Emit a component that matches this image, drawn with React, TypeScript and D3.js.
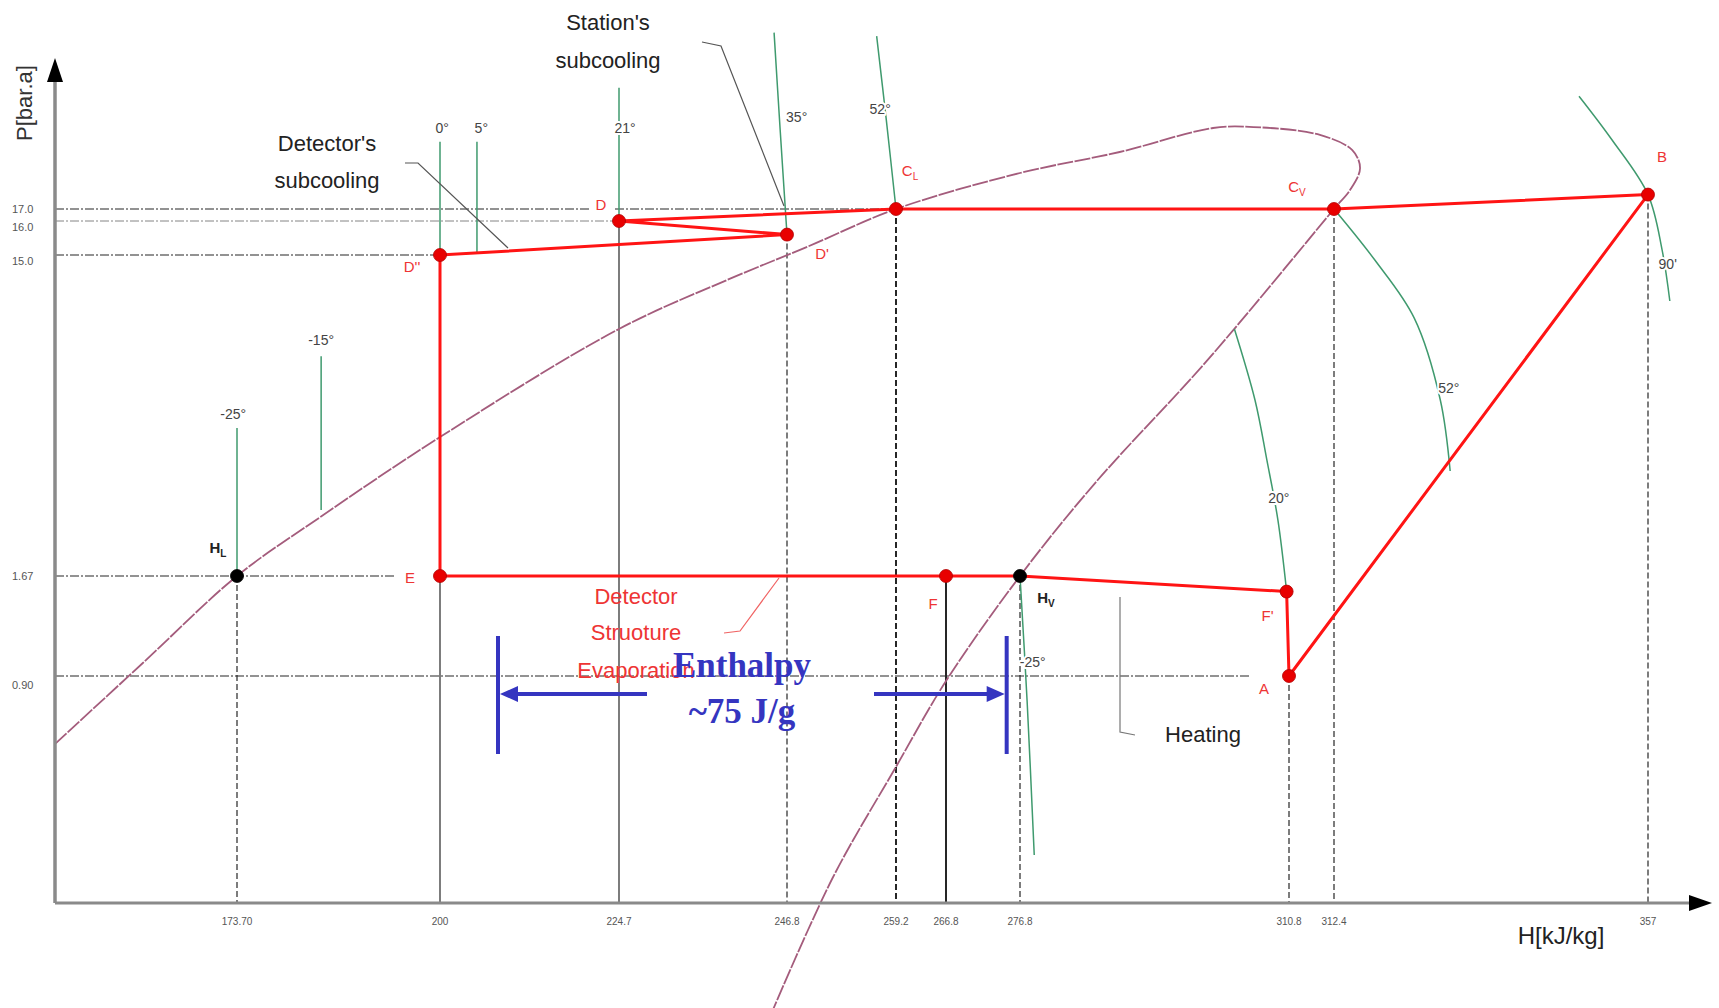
import React from "react";
import * as d3 from "d3";

// ---- axis ticks -------------------------------------------------------
const hTicks = [173.7, 200, 224.7, 246.8, 259.2, 266.8, 276.8, 310.8, 312.4, 357];
const hTickLabels = ["173.70", "200", "224.7", "246.8", "259.2", "266.8", "276.8", "310.8", "312.4", "357"];
const pTicks = [17.0, 16.0, 15.0, 1.67, 0.9];
const pTickLabels = ["17.0", "16.0", "15.0", "1.67", "0.90"];

// ---- cycle state points (H kJ/kg, P bar.a) ----------------------------
const stateNames = ["A", "B", "C_V", "C_L", "D", "D'", "D''", "E", "F", "H_V", "F'", "H_L"];
const stateH = [310.8, 357, 312.4, 259.2, 224.7, 246.8, 200, 200, 266.8, 276.8, 310.5, 173.7];
const stateP = [0.9, 18.2, 17.0, 17.0, 16.0, 15.6, 15.0, 1.67, 1.67, 1.67, 1.55, 1.67];
const cycleOrder = ["A", "B", "C_V", "C_L", "D", "D'", "D''", "E", "F", "H_V", "F'", "A"];
const blackStates = ["H_L", "H_V"];
const dropLines = ["H_L", "E", "D", "D'", "C_L", "F", "H_V", "A", "C_V", "B"];

// ---- saturation dome (liquid branch -> critical region -> vapour branch)
const domeH = [150.1, 161.5, 173.7, 184.5, 200, 224.7, 238.9, 249.1, 259.2, 276.8, 289.4, 301.2, 306.3, 311.9, 315.0, 316.1, 314.7, 312.4, 300.3, 286.4, 276.8, 266.8, 259.2, 252.0, 245.0];
const domeP = [0.63, 1.0, 1.67, 4.12, 7.44, 11.93, 13.96, 15.24, 17.0, 20.0, 21.75, 23.75, 23.83, 23.17, 21.9, 20.4, 18.6, 17.0, 10.56, 5.57, 1.67, 0.88, 0.54, 0.10, -0.42];

// ---- isotherms [H, P] ---------------------------------------------------
const iso0 = [[200, 22.6], [200, 15.0]];
const iso5 = [[205.1, 22.6], [205.1, 15.07]];
const iso21 = [[224.7, 27.1], [224.7, 16.0]];
const isoM15 = [[184.6, 10.8], [184.6, 4.41]];
const isoM25L = [[173.7, 7.82], [173.7, 1.67]];
const iso35 = [[245.1, 31.7], [245.9, 23.6], [246.8, 15.6]];
const iso52L = [[257.0, 31.4], [258.1, 24.4], [259.2, 17.0]];
const iso90 = [[347.2, 26.4], [351.9, 22.75], [357, 18.2], [359.0, 15.15], [360.1, 13.09]];
const iso52R = [[312.4, 17.0], [318.2, 14.79], [323.8, 12.38], [327.5, 8.98], [328.9, 6.03]];
const iso20 = [[303.9, 11.93], [306.5, 8.98], [308.0, 6.49], [309.4, 3.99], [310.5, 1.55]];
const isoM25R = [[276.8, 1.67], [277.7, 0.8], [278.6, 0.19]];
const isoLines = [iso0, iso5, iso21, isoM15, isoM25L, iso35, iso52L, iso90, iso52R, iso20, isoM25R];
const isoLabels = ["0°", "5°", "21°", "-15°", "-25°", "35°", "52°", "90'", "52°", "20°", "-25°"];
const isoLabelH = [200.3, 205.7, 225.5, 184.6, 173.2, 247.9, 257.4, 359.8, 328.7, 309.5, 278.4];
const isoLabelP = [23.67, 23.67, 23.67, 11.43, 8.36, 24.6, 25.25, 14.58, 9.43, 4.87, 1.0];

// enthalpy span of the evaporation bracket
const enthalpySpan = [208, 275];

const SANS = "'Liberation Sans', Arial, Helvetica, sans-serif";
const RED = "#ff1414";
const LABEL_RED = "#ee3434";
const GREEN = "#3f9a6e";
const DOME = "#a45c7c";
const BLUE = "#3535c0";
const GUIDE = "#262626";

function sub(name: string) {
  return name.split("_");
}

export default function App() {
  const x = d3.scaleLinear().domain(hTicks).range([237, 440, 619, 787, 896, 946, 1020, 1289, 1334, 1648]);
  const y = d3.scaleLinear().domain([0, 0.9, 1.67, 15, 16, 17]).range([903, 676, 576, 255, 221, 209]);

  const idx = (n: string) => stateNames.indexOf(n);
  const px = (n: string) => x(stateH[idx(n)]);
  const py = (n: string) => y(stateP[idx(n)]);

  const x0 = 55;
  const axisY = y(0);

  const smooth = d3
    .line<number[]>()
    .x((d) => x(d[0]))
    .y((d) => y(d[1]))
    .curve(d3.curveCatmullRom.alpha(0.5));

  const domePts = domeH.map((h, i) => [h, domeP[i]]);
  const cyclePath = d3
    .line<string>()
    .x((n) => px(n))
    .y((n) => py(n))(cycleOrder);

  // label offsets for the state points
  const labelOffset: Record<string, [number, number]> = {
    A: [-25, 14],
    B: [14, -37],
    C_V: [-37, -21],
    C_L: [14, -37],
    D: [-18, -15],
    "D'": [35, 20],
    "D''": [-28, 13],
    E: [-30, 3],
    F: [-13, 29],
    H_V: [26, 23],
    "F'": [-19, 25],
    H_L: [-19, -27],
  };
  const pLabelNudge = [1, 7, 7, 1, 10];

  const halo = { stroke: "#fff", strokeWidth: 4, paintOrder: "stroke" as const, strokeLinejoin: "round" as const };

  return (
    <svg
      width={1719}
      height={1008}
      style={{ position: "absolute", left: 0, top: 0, background: "#fff" }}
      fontFamily={SANS}
    >
      <rect width={1719} height={1008} fill="#fff" />

      {/* horizontal pressure guides */}
      <g stroke={GUIDE} strokeWidth={1.2} strokeDasharray="9,2,2,2" fill="none">
        <line x1={x0} x2={px("D") - 30} y1={y(17)} y2={y(17)} />
        <line x1={px("D") - 4} x2={px("C_L")} y1={y(17)} y2={y(17)} />
        <line x1={x0} x2={px("D")} y1={y(16)} y2={y(16)} strokeWidth={0.9} stroke="#777" />
        <line x1={x0} x2={px("D''")} y1={y(15)} y2={y(15)} />
        <line x1={x0} x2={px("E") - 45} y1={y(1.67)} y2={y(1.67)} />
        <line x1={x0} x2={px("A") - 40} y1={y(0.9)} y2={y(0.9)} />
      </g>

      {/* vertical enthalpy guides */}
      <g stroke={GUIDE} fill="none">
        {dropLines.map((n) => (
          <line
            key={n}
            x1={px(n)}
            x2={px(n)}
            y1={py(n)}
            y2={axisY}
            strokeWidth={n === "C_L" || n === "F" ? 2 : 1.2}
            strokeDasharray={n === "F" || n === "D" || n === "E" ? "none" : "6,3"}
          />
        ))}
      </g>

      {/* saturation dome */}
      <path d={smooth(domePts) || ""} fill="none" stroke={DOME} strokeWidth={1.8} strokeDasharray="16,1.5" />

      {/* isotherms */}
      <g fill="none" stroke={GREEN} strokeWidth={1.5}>
        {isoLines.map((pts, i) => (
          <path key={i} d={smooth(pts) || ""} />
        ))}
      </g>
      <g fontSize={14} fill="#444" textAnchor="middle" dominantBaseline="middle">
        {isoLabels.map((t, i) => (
          <text key={i} x={x(isoLabelH[i])} y={y(isoLabelP[i])} {...halo}>
            {t}
          </text>
        ))}
      </g>

      {/* annotation leaders */}
      <g fill="none" stroke="#555" strokeWidth={1.2}>
        <polyline points="405,163 418,163 508,248" />
        <polyline points="702,42 721,46 784,206" />
        <polyline points="1120,597 1120,732 1135,735" stroke="#777" />
      </g>
      <polyline points="779,578 740,631 724,633" fill="none" stroke="#f06464" strokeWidth={1.2} />

      {/* refrigeration cycle */}
      <path d={cyclePath || ""} fill="none" stroke={RED} strokeWidth={3} strokeLinejoin="round" />
      {stateNames.map((n, i) => (
        <circle
          key={n}
          cx={x(stateH[i])}
          cy={y(stateP[i])}
          r={6.5}
          fill={blackStates.includes(n) ? "#000" : "#e80000"}
          stroke={blackStates.includes(n) ? "#000" : "#b00000"}
          strokeWidth={0.8}
        />
      ))}
      {stateNames.map((n, i) => {
        const [a, b] = sub(n);
        const [dx, dy] = labelOffset[n];
        const black = blackStates.includes(n);
        return (
          <text
            key={"l" + n}
            x={x(stateH[i]) + dx}
            y={y(stateP[i]) + dy}
            fontSize={15}
            fill={black ? "#222" : LABEL_RED}
            textAnchor="middle"
            dominantBaseline="middle"
            fontWeight={black ? "bold" : "normal"}
          >
            {a}
            {b && (
              <tspan fontSize={10} dy={5}>
                {b}
              </tspan>
            )}
          </text>
        );
      })}

      {/* explanatory texts */}
      <g fontSize={22} fill="#222" textAnchor="middle" dominantBaseline="middle">
        <text x={608} y={24}>Station's</text>
        <text x={608} y={62}>subcooling</text>
        <text x={327} y={145}>Detector's</text>
        <text x={327} y={182}>subcooling</text>
        <text x={1203} y={736}>Heating</text>
      </g>
      <g fontSize={22} fill={LABEL_RED} textAnchor="middle" dominantBaseline="middle">
        <text x={636} y={598}>Detector</text>
        <text x={636} y={634}>Struoture</text>
        <text x={636} y={672}>Evaporation</text>
      </g>

      {/* enthalpy bracket */}
      <g stroke={BLUE} strokeWidth={4} fill={BLUE}>
        <line x1={x(enthalpySpan[0])} x2={x(enthalpySpan[0])} y1={636} y2={754} />
        <line x1={x(enthalpySpan[1])} x2={x(enthalpySpan[1])} y1={636} y2={754} />
        <line x1={647} x2={x(enthalpySpan[0]) + 14} y1={694} y2={694} />
        <line x1={874} x2={x(enthalpySpan[1]) - 14} y1={694} y2={694} />
        <polygon
          stroke="none"
          points={`${x(enthalpySpan[0]) + 2},694 ${x(enthalpySpan[0]) + 20},686 ${x(enthalpySpan[0]) + 20},702`}
        />
        <polygon
          stroke="none"
          points={`${x(enthalpySpan[1]) - 2},694 ${x(enthalpySpan[1]) - 20},686 ${x(enthalpySpan[1]) - 20},702`}
        />
      </g>
      <g
        fontFamily="'Liberation Serif', 'Times New Roman', serif"
        fontWeight="bold"
        fontSize={35}
        fill={BLUE}
        textAnchor="middle"
        dominantBaseline="middle"
      >
        <text x={742} y={669}>Enthalpy</text>
        <text x={742} y={715}>~75 J/g</text>
      </g>

      {/* axes */}
      <line x1={x0} x2={x0} y1={axisY} y2={76} stroke="#8a8a8a" strokeWidth={3.5} />
      <polygon points={`${x0},58 ${x0 - 8},82 ${x0 + 8},82`} fill="#000" />
      <line x1={x0} x2={1692} y1={axisY} y2={axisY} stroke="#8a8a8a" strokeWidth={3} />
      <polygon points={`1712,${axisY} 1689,${axisY - 8} 1689,${axisY + 8}`} fill="#000" />

      <g fontSize={10} fill="#555" textAnchor="middle" dominantBaseline="middle">
        {hTicks.map((h, i) => (
          <text key={h} x={x(h)} y={axisY + 19}>
            {hTickLabels[i]}
          </text>
        ))}
      </g>
      <g fontSize={11} fill="#555" textAnchor="start" dominantBaseline="middle">
        {pTicks.map((p, i) => (
          <text key={p} x={12} y={y(p) + pLabelNudge[i]}>
            {pTickLabels[i]}
          </text>
        ))}
      </g>

      <text x={1561} y={938} fontSize={24} fill="#222" textAnchor="middle" dominantBaseline="middle">
        H[kJ/kg]
      </text>
      <text
        transform="translate(26,103) rotate(-90)"
        fontSize={22}
        fill="#333"
        textAnchor="middle"
        dominantBaseline="middle"
      >
        P[bar.a]
      </text>
    </svg>
  );
}
